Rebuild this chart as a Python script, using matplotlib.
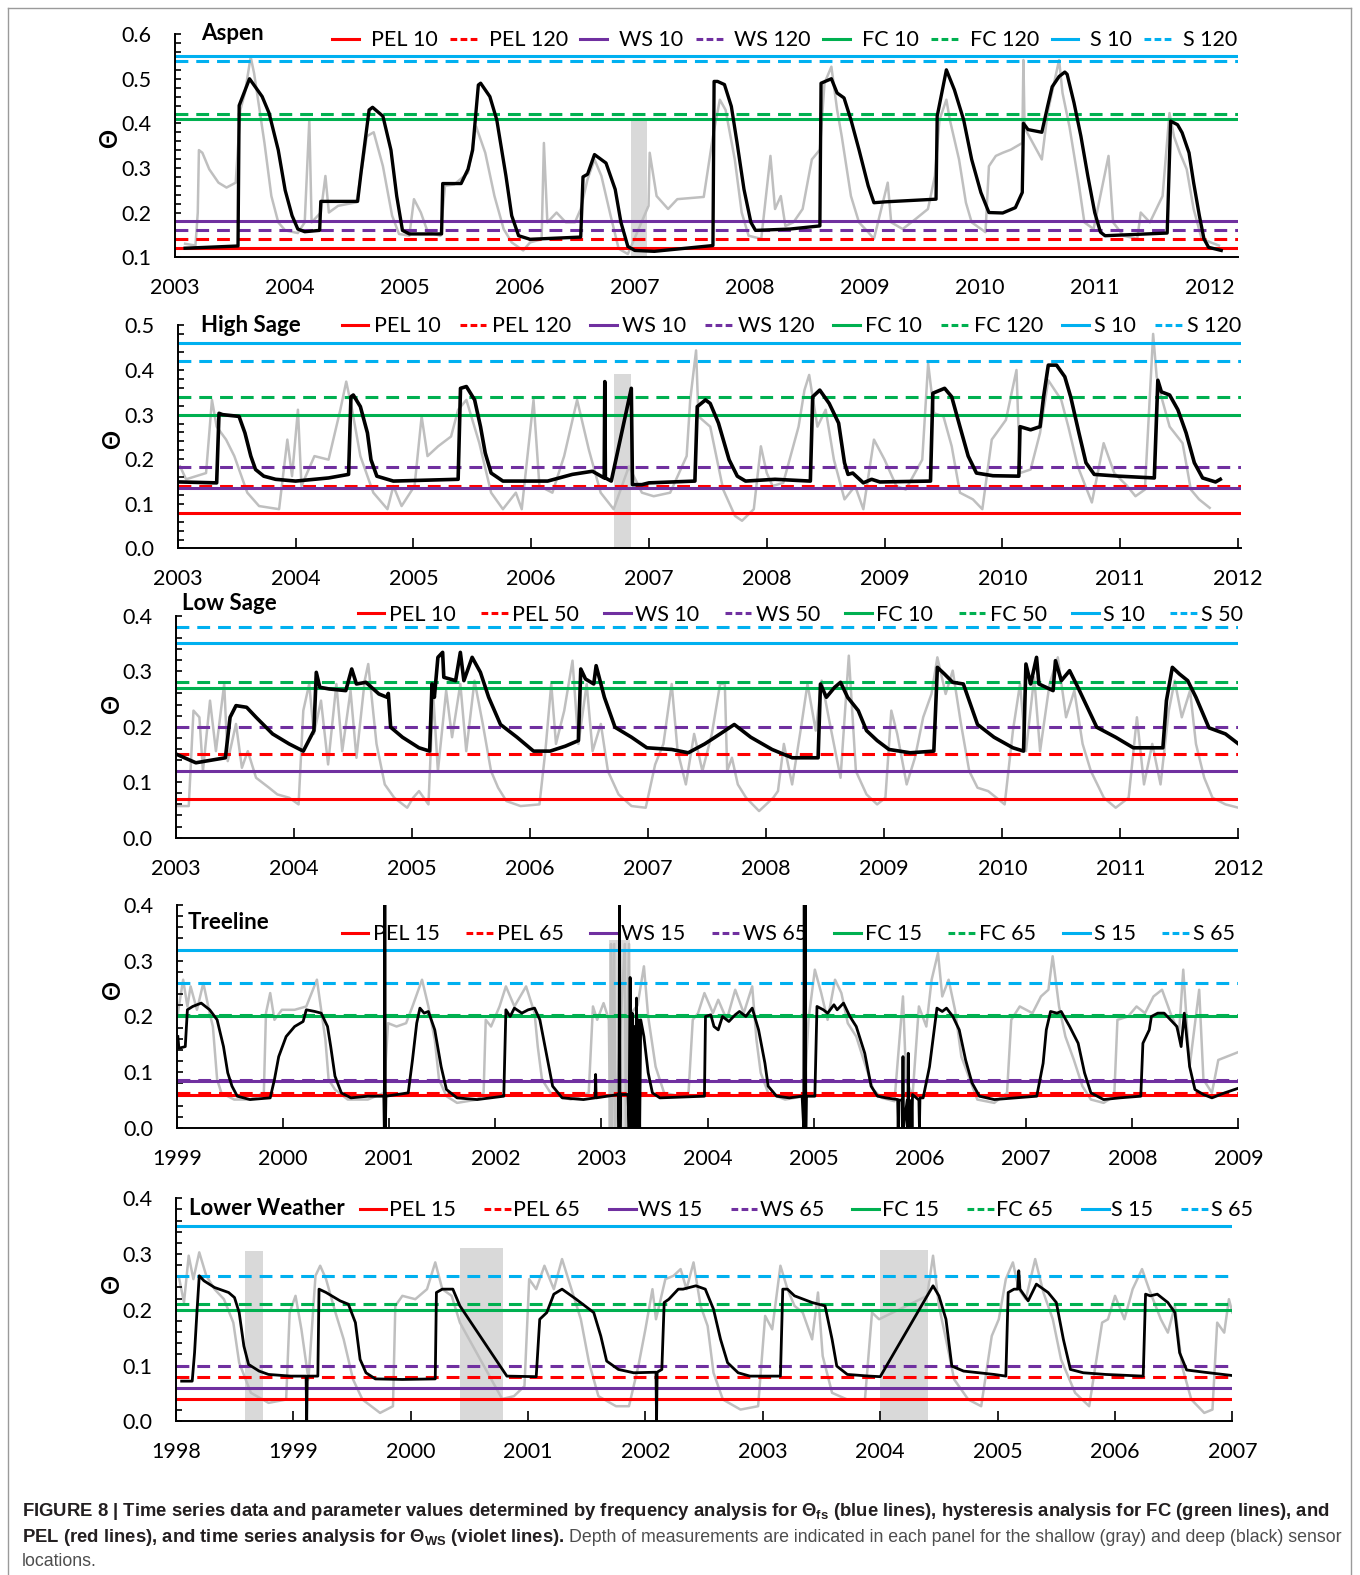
import matplotlib
matplotlib.use("Agg")
import matplotlib.pyplot as plt
from matplotlib.lines import Line2D
import numpy as np

# ---- data (decimal year, volumetric water content) ----
ref_colors = ["#FF0000", "#7030A0", "#00B050", "#00B0F0"]   # PEL, WS, FC, S

# Aspen (10 / 120 cm)
aspen_labels = ["PEL 10", "PEL 120", "WS 10", "WS 120", "FC 10", "FC 120", "S 10", "S 120"]
aspen_levels = [0.12, 0.14, 0.18, 0.16, 0.41, 0.42, 0.55, 0.54]
aspen_gaps = [(2006.97, 2007.11, 0.41)]
aspen_deep = [
    (2003.09, 0.12), (2003.55, 0.125), (2003.56, 0.44), (2003.65, 0.50), (2003.76, 0.46),
    (2003.82, 0.423), (2003.90, 0.34), (2003.96, 0.25), (2004.02, 0.193), (2004.07, 0.163),
    (2004.13, 0.157), (2004.26, 0.16), (2004.27, 0.225), (2004.59, 0.225), (2004.62, 0.29),
    (2004.69, 0.43), (2004.72, 0.436), (2004.81, 0.416), (2004.88, 0.34), (2004.93, 0.237),
    (2004.98, 0.16), (2005.04, 0.152), (2005.32, 0.152), (2005.33, 0.265), (2005.49, 0.265),
    (2005.55, 0.297), (2005.59, 0.34), (2005.64, 0.486), (2005.66, 0.49), (2005.74, 0.46),
    (2005.80, 0.408), (2005.88, 0.282), (2005.93, 0.193), (2005.99, 0.148), (2006.09, 0.14),
    (2006.53, 0.145), (2006.55, 0.28), (2006.59, 0.286), (2006.65, 0.33), (2006.75, 0.311),
    (2006.83, 0.252), (2006.88, 0.178), (2006.94, 0.124), (2007.0, 0.115), (2007.17, 0.113),
    (2007.68, 0.126), (2007.69, 0.494), (2007.72, 0.494), (2007.78, 0.487), (2007.84, 0.438),
    (2007.89, 0.356), (2007.95, 0.252), (2008.01, 0.178), (2008.05, 0.16), (2008.35, 0.163),
    (2008.61, 0.17), (2008.62, 0.49), (2008.71, 0.50), (2008.76, 0.468), (2008.82, 0.457),
    (2008.88, 0.408), (2008.95, 0.341), (2009.03, 0.26), (2009.08, 0.222), (2009.18, 0.224),
    (2009.62, 0.23), (2009.63, 0.416), (2009.71, 0.52), (2009.78, 0.475), (2009.86, 0.408),
    (2009.93, 0.319), (2010.01, 0.245), (2010.08, 0.20), (2010.20, 0.199), (2010.31, 0.211),
    (2010.37, 0.245), (2010.38, 0.40), (2010.42, 0.386), (2010.54, 0.38), (2010.59, 0.438),
    (2010.63, 0.482), (2010.69, 0.505), (2010.74, 0.515), (2010.76, 0.51), (2010.82, 0.446),
    (2010.88, 0.371), (2010.94, 0.282), (2011.0, 0.20), (2011.05, 0.156), (2011.09, 0.148),
    (2011.63, 0.154), (2011.66, 0.405), (2011.72, 0.397), (2011.76, 0.379), (2011.82, 0.334),
    (2011.86, 0.267), (2011.91, 0.193), (2011.95, 0.141), (2011.99, 0.122), (2012.10, 0.115)]
aspen_shallow = [
    (2003.09, 0.13), (2003.18, 0.126), (2003.20, 0.20), (2003.21, 0.34), (2003.24, 0.334),
    (2003.30, 0.297), (2003.38, 0.267), (2003.45, 0.256), (2003.53, 0.267), (2003.57, 0.43),
    (2003.61, 0.468), (2003.66, 0.549), (2003.69, 0.512), (2003.72, 0.46), (2003.78, 0.356),
    (2003.84, 0.237), (2003.90, 0.178), (2003.96, 0.16), (2004.07, 0.154), (2004.13, 0.178),
    (2004.17, 0.408), (2004.19, 0.178), (2004.27, 0.20), (2004.31, 0.282), (2004.34, 0.20),
    (2004.42, 0.215), (2004.58, 0.223), (2004.64, 0.319), (2004.67, 0.371), (2004.73, 0.38),
    (2004.81, 0.304), (2004.89, 0.193), (2004.95, 0.152), (2005.04, 0.148), (2005.08, 0.23),
    (2005.14, 0.20), (2005.20, 0.156), (2005.31, 0.148), (2005.35, 0.26), (2005.43, 0.263),
    (2005.55, 0.289), (2005.62, 0.393), (2005.70, 0.334), (2005.78, 0.237), (2005.86, 0.163),
    (2005.93, 0.133), (2006.03, 0.115), (2006.09, 0.133), (2006.19, 0.14), (2006.21, 0.356),
    (2006.24, 0.178), (2006.32, 0.20), (2006.40, 0.178), (2006.48, 0.178), (2006.53, 0.208),
    (2006.59, 0.275), (2006.65, 0.319), (2006.71, 0.282), (2006.79, 0.193), (2006.86, 0.119),
    (2006.94, 0.107), (2007.12, 0.215), (2007.13, 0.334), (2007.19, 0.237), (2007.29, 0.208),
    (2007.37, 0.23), (2007.60, 0.235), (2007.68, 0.371), (2007.74, 0.453), (2007.79, 0.43),
    (2007.87, 0.319), (2007.93, 0.20), (2007.99, 0.148), (2008.10, 0.141), (2008.18, 0.327),
    (2008.22, 0.208), (2008.27, 0.237), (2008.31, 0.17), (2008.38, 0.178), (2008.46, 0.208),
    (2008.54, 0.319), (2008.61, 0.341), (2008.65, 0.49), (2008.71, 0.527), (2008.76, 0.43),
    (2008.80, 0.371), (2008.88, 0.237), (2008.95, 0.178), (2009.03, 0.156), (2009.08, 0.141),
    (2009.20, 0.267), (2009.23, 0.178), (2009.33, 0.163), (2009.44, 0.185), (2009.55, 0.208),
    (2009.61, 0.282), (2009.65, 0.408), (2009.71, 0.453), (2009.74, 0.408), (2009.82, 0.319),
    (2009.88, 0.222), (2009.93, 0.178), (2010.05, 0.156), (2010.08, 0.304), (2010.14, 0.327),
    (2010.20, 0.334), (2010.27, 0.341), (2010.37, 0.356), (2010.38, 0.542), (2010.39, 0.39),
    (2010.54, 0.319), (2010.59, 0.423), (2010.69, 0.542), (2010.72, 0.468), (2010.78, 0.393),
    (2010.86, 0.267), (2010.91, 0.178), (2010.99, 0.163), (2011.12, 0.327), (2011.16, 0.178),
    (2011.25, 0.148), (2011.37, 0.141), (2011.40, 0.20), (2011.48, 0.178), (2011.59, 0.237),
    (2011.65, 0.423), (2011.69, 0.37), (2011.74, 0.334), (2011.80, 0.297), (2011.86, 0.208),
    (2011.93, 0.141), (2012.08, 0.126)]

# High Sage (10 / 120 cm)
hsage_labels = ["PEL 10", "PEL 120", "WS 10", "WS 120", "FC 10", "FC 120", "S 10", "S 120"]
hsage_levels = [0.08, 0.14, 0.135, 0.183, 0.30, 0.34, 0.46, 0.42]
hsage_gaps = [(2006.70, 2006.85, 0.39)]
hsage_deep = [
    (2003.02, 0.149), (2003.33, 0.147), (2003.35, 0.303), (2003.38, 0.30), (2003.52, 0.296),
    (2003.57, 0.259), (2003.62, 0.207), (2003.66, 0.177), (2003.73, 0.162), (2003.83, 0.155),
    (2004.0, 0.151), (2004.28, 0.158), (2004.45, 0.166), (2004.47, 0.34), (2004.49, 0.344),
    (2004.55, 0.318), (2004.61, 0.259), (2004.64, 0.199), (2004.69, 0.162), (2004.83, 0.151),
    (2005.38, 0.155), (2005.40, 0.359), (2005.45, 0.363), (2005.52, 0.333), (2005.57, 0.273),
    (2005.61, 0.214), (2005.66, 0.169), (2005.76, 0.151), (2006.14, 0.151), (2006.35, 0.166),
    (2006.52, 0.173), (2006.62, 0.158), (2006.625, 0.374), (2006.63, 0.158), (2006.68, 0.151),
    (2006.85, 0.359), (2006.86, 0.143), (2006.94, 0.143), (2007.0, 0.147), (2007.39, 0.151),
    (2007.41, 0.318), (2007.48, 0.333), (2007.52, 0.325), (2007.59, 0.281), (2007.68, 0.199),
    (2007.75, 0.162), (2007.82, 0.151), (2008.07, 0.155), (2008.37, 0.151), (2008.39, 0.34),
    (2008.45, 0.355), (2008.53, 0.325), (2008.61, 0.281), (2008.66, 0.192), (2008.69, 0.166),
    (2008.73, 0.169), (2008.82, 0.147), (2008.89, 0.155), (2008.96, 0.149), (2009.39, 0.151),
    (2009.41, 0.348), (2009.51, 0.359), (2009.57, 0.34), (2009.64, 0.273), (2009.71, 0.207),
    (2009.78, 0.169), (2009.92, 0.163), (2010.14, 0.162), (2010.15, 0.273), (2010.24, 0.266),
    (2010.32, 0.273), (2010.35, 0.34), (2010.39, 0.411), (2010.46, 0.411), (2010.53, 0.385),
    (2010.58, 0.34), (2010.65, 0.259), (2010.71, 0.192), (2010.78, 0.166), (2010.99, 0.162),
    (2011.29, 0.158), (2011.32, 0.377), (2011.35, 0.351), (2011.42, 0.344), (2011.49, 0.311),
    (2011.56, 0.259), (2011.63, 0.192), (2011.70, 0.158), (2011.81, 0.149), (2011.85, 0.155)]
hsage_shallow = [
    (2003.02, 0.184), (2003.07, 0.155), (2003.24, 0.169), (2003.29, 0.333), (2003.33, 0.273),
    (2003.41, 0.244), (2003.48, 0.207), (2003.59, 0.125), (2003.69, 0.095), (2003.86, 0.088),
    (2003.93, 0.244), (2003.97, 0.162), (2004.02, 0.311), (2004.05, 0.140), (2004.16, 0.207),
    (2004.28, 0.199), (2004.38, 0.311), (2004.43, 0.374), (2004.48, 0.311), (2004.55, 0.207),
    (2004.66, 0.125), (2004.78, 0.088), (2004.83, 0.140), (2004.90, 0.095), (2005.01, 0.140),
    (2005.07, 0.296), (2005.12, 0.207), (2005.21, 0.229), (2005.32, 0.251), (2005.38, 0.311),
    (2005.45, 0.333), (2005.56, 0.236), (2005.66, 0.125), (2005.76, 0.088), (2005.87, 0.125),
    (2005.92, 0.088), (2006.02, 0.333), (2006.07, 0.140), (2006.18, 0.125), (2006.28, 0.207),
    (2006.39, 0.333), (2006.49, 0.221), (2006.59, 0.125), (2006.70, 0.088), (2006.83, 0.184),
    (2006.94, 0.125), (2007.04, 0.117), (2007.18, 0.125), (2007.32, 0.207), (2007.35, 0.333),
    (2007.40, 0.444), (2007.42, 0.296), (2007.52, 0.273), (2007.63, 0.132), (2007.73, 0.073),
    (2007.79, 0.062), (2007.89, 0.088), (2007.95, 0.229), (2008.0, 0.169), (2008.05, 0.14),
    (2008.14, 0.147), (2008.27, 0.273), (2008.32, 0.355), (2008.36, 0.389), (2008.43, 0.273),
    (2008.50, 0.311), (2008.57, 0.199), (2008.66, 0.11), (2008.75, 0.14), (2008.82, 0.088),
    (2008.91, 0.244), (2009.0, 0.199), (2009.10, 0.14), (2009.18, 0.132), (2009.32, 0.199),
    (2009.37, 0.415), (2009.42, 0.303), (2009.50, 0.296), (2009.57, 0.229), (2009.64, 0.125),
    (2009.75, 0.11), (2009.83, 0.088), (2009.91, 0.244), (2010.03, 0.288), (2010.12, 0.40),
    (2010.15, 0.169), (2010.24, 0.177), (2010.32, 0.259), (2010.39, 0.377), (2010.50, 0.333),
    (2010.56, 0.273), (2010.64, 0.184), (2010.76, 0.103), (2010.86, 0.236), (2010.95, 0.169),
    (2011.06, 0.14), (2011.13, 0.117), (2011.21, 0.132), (2011.28, 0.481), (2011.31, 0.385),
    (2011.35, 0.34), (2011.42, 0.273), (2011.53, 0.236), (2011.60, 0.132), (2011.67, 0.11),
    (2011.76, 0.091)]

# Low Sage (10 / 50 cm)
lsage_labels = ["PEL 10", "PEL 50", "WS 10", "WS 50", "FC 10", "FC 50", "S 10", "S 50"]
lsage_levels = [0.07, 0.15, 0.12, 0.20, 0.27, 0.28, 0.35, 0.38]
lsage_gaps = []
lsage_deep = [
    (2003.01, 0.150), (2003.17, 0.135), (2003.42, 0.144), (2003.46, 0.217), (2003.51, 0.238),
    (2003.60, 0.235), (2003.68, 0.217), (2003.82, 0.187), (2003.96, 0.169), (2004.08, 0.156),
    (2004.17, 0.193), (2004.19, 0.298), (2004.22, 0.271), (2004.30, 0.268), (2004.44, 0.265),
    (2004.49, 0.304), (2004.53, 0.277), (2004.61, 0.28), (2004.72, 0.259), (2004.79, 0.253),
    (2004.80, 0.26), (2004.82, 0.199), (2004.92, 0.181), (2005.06, 0.162), (2005.15, 0.156),
    (2005.17, 0.277), (2005.19, 0.253), (2005.22, 0.325), (2005.26, 0.334), (2005.27, 0.289),
    (2005.37, 0.283), (2005.41, 0.334), (2005.44, 0.283), (2005.51, 0.325), (2005.58, 0.298),
    (2005.65, 0.253), (2005.75, 0.204), (2005.89, 0.181), (2006.03, 0.156), (2006.17, 0.156),
    (2006.30, 0.165), (2006.41, 0.175), (2006.43, 0.304), (2006.47, 0.286), (2006.54, 0.277),
    (2006.56, 0.31), (2006.63, 0.253), (2006.72, 0.199), (2006.86, 0.181), (2006.99, 0.162),
    (2007.20, 0.159), (2007.34, 0.153), (2007.48, 0.169), (2007.61, 0.187), (2007.73, 0.204),
    (2007.87, 0.181), (2008.05, 0.159), (2008.22, 0.144), (2008.44, 0.144), (2008.46, 0.277),
    (2008.51, 0.253), (2008.58, 0.271), (2008.63, 0.28), (2008.69, 0.253), (2008.78, 0.229),
    (2008.85, 0.193), (2008.94, 0.175), (2009.04, 0.159), (2009.22, 0.153), (2009.42, 0.156),
    (2009.45, 0.307), (2009.51, 0.295), (2009.58, 0.28), (2009.67, 0.277), (2009.79, 0.204),
    (2009.93, 0.181), (2010.09, 0.162), (2010.18, 0.156), (2010.20, 0.313), (2010.24, 0.277),
    (2010.29, 0.325), (2010.31, 0.277), (2010.43, 0.265), (2010.45, 0.319), (2010.50, 0.283),
    (2010.57, 0.301), (2010.64, 0.271), (2010.80, 0.199), (2010.96, 0.181), (2011.11, 0.162),
    (2011.36, 0.162), (2011.39, 0.247), (2011.44, 0.307), (2011.50, 0.295), (2011.57, 0.283),
    (2011.64, 0.253), (2011.75, 0.198), (2011.89, 0.187), (2012.0, 0.169)]
lsage_shallow = [
    (2003.01, 0.057), (2003.11, 0.057), (2003.15, 0.229), (2003.20, 0.217), (2003.23, 0.12),
    (2003.29, 0.247), (2003.34, 0.156), (2003.41, 0.277), (2003.44, 0.138), (2003.51, 0.205),
    (2003.56, 0.126), (2003.61, 0.156), (2003.68, 0.108), (2003.79, 0.09), (2003.86, 0.078),
    (2003.96, 0.072), (2004.04, 0.06), (2004.08, 0.229), (2004.13, 0.277), (2004.17, 0.187),
    (2004.23, 0.247), (2004.29, 0.132), (2004.36, 0.277), (2004.41, 0.156), (2004.48, 0.265),
    (2004.53, 0.144), (2004.60, 0.283), (2004.63, 0.313), (2004.70, 0.169), (2004.77, 0.096),
    (2004.85, 0.072), (2004.96, 0.054), (2005.01, 0.072), (2005.06, 0.084), (2005.14, 0.06),
    (2005.18, 0.259), (2005.22, 0.12), (2005.29, 0.265), (2005.34, 0.181), (2005.41, 0.277),
    (2005.46, 0.156), (2005.53, 0.283), (2005.60, 0.205), (2005.67, 0.12), (2005.73, 0.09),
    (2005.80, 0.066), (2005.92, 0.057), (2006.08, 0.06), (2006.13, 0.156), (2006.18, 0.277),
    (2006.22, 0.169), (2006.29, 0.229), (2006.36, 0.319), (2006.41, 0.169), (2006.48, 0.277),
    (2006.53, 0.156), (2006.60, 0.205), (2006.66, 0.12), (2006.75, 0.078), (2006.86, 0.057),
    (2006.98, 0.054), (2007.06, 0.132), (2007.13, 0.169), (2007.20, 0.277), (2007.25, 0.156),
    (2007.32, 0.096), (2007.39, 0.187), (2007.46, 0.12), (2007.54, 0.187), (2007.61, 0.277),
    (2007.65, 0.277), (2007.67, 0.12), (2007.71, 0.144), (2007.76, 0.096), (2007.83, 0.072),
    (2007.94, 0.048), (2008.06, 0.072), (2008.10, 0.084), (2008.15, 0.169), (2008.22, 0.096),
    (2008.30, 0.205), (2008.35, 0.277), (2008.42, 0.193), (2008.47, 0.283), (2008.54, 0.205),
    (2008.63, 0.108), (2008.70, 0.328), (2008.76, 0.12), (2008.85, 0.078), (2008.94, 0.06),
    (2009.01, 0.072), (2009.06, 0.229), (2009.11, 0.187), (2009.19, 0.096), (2009.26, 0.144),
    (2009.33, 0.217), (2009.40, 0.259), (2009.45, 0.325), (2009.52, 0.259), (2009.58, 0.301),
    (2009.65, 0.205), (2009.72, 0.12), (2009.79, 0.09), (2009.88, 0.084), (2009.95, 0.072),
    (2010.02, 0.06), (2010.09, 0.193), (2010.15, 0.277), (2010.20, 0.156), (2010.27, 0.289),
    (2010.32, 0.156), (2010.40, 0.277), (2010.47, 0.325), (2010.54, 0.217), (2010.61, 0.265),
    (2010.68, 0.169), (2010.75, 0.12), (2010.86, 0.072), (2010.96, 0.054), (2011.07, 0.072),
    (2011.14, 0.217), (2011.20, 0.096), (2011.27, 0.169), (2011.34, 0.096), (2011.41, 0.229),
    (2011.46, 0.283), (2011.52, 0.217), (2011.59, 0.265), (2011.64, 0.169), (2011.71, 0.108),
    (2011.78, 0.072), (2011.89, 0.06), (2012.0, 0.054)]

# Treeline (15 / 65 cm)
tree_labels = ["PEL 15", "PEL 65", "WS 15", "WS 65", "FC 15", "FC 65", "S 15", "S 65"]
tree_levels = [0.060, 0.062, 0.084, 0.086, 0.200, 0.202, 0.32, 0.26]
tree_gaps = [(2003.07, 2003.27, 0.337)]
tree_deep = [
    (1999.01, 0.164), (1999.02, 0.143), (1999.08, 0.146), (1999.10, 0.212), (1999.15, 0.218),
    (1999.23, 0.224), (1999.31, 0.212), (1999.38, 0.194), (1999.44, 0.146), (1999.48, 0.099),
    (1999.52, 0.075), (1999.57, 0.057), (1999.69, 0.051), (1999.88, 0.054), (1999.92, 0.087),
    (1999.96, 0.128), (2000.03, 0.164), (2000.11, 0.182), (2000.19, 0.191), (2000.22, 0.212),
    (2000.30, 0.209), (2000.36, 0.206), (2000.42, 0.182), (2000.45, 0.146), (2000.49, 0.093),
    (2000.55, 0.063), (2000.64, 0.054), (2000.80, 0.057), (2000.95, 0.057), (2000.955, 0.0),
    (2000.96, 0.40), (2000.965, 0.0), (2000.97, 0.057), (2001.18, 0.063), (2001.22, 0.122),
    (2001.26, 0.188), (2001.29, 0.215), (2001.33, 0.206), (2001.37, 0.209), (2001.43, 0.176),
    (2001.49, 0.11), (2001.54, 0.069), (2001.64, 0.054), (2001.83, 0.051), (2002.08, 0.057),
    (2002.10, 0.212), (2002.14, 0.20), (2002.18, 0.215), (2002.25, 0.206), (2002.31, 0.212),
    (2002.37, 0.215), (2002.42, 0.194), (2002.48, 0.134), (2002.54, 0.075), (2002.63, 0.054),
    (2002.83, 0.051), (2002.94, 0.054), (2002.945, 0.096), (2002.95, 0.054), (2003.16, 0.06),
    (2003.165, 0.0), (2003.17, 0.40), (2003.175, 0.0), (2003.18, 0.06), (2003.25, 0.06),
    (2003.26, 0.0), (2003.27, 0.27), (2003.28, 0.0), (2003.29, 0.206), (2003.30, 0.0),
    (2003.31, 0.182), (2003.32, 0.0), (2003.33, 0.233), (2003.34, 0.0), (2003.35, 0.194),
    (2003.36, 0.0), (2003.37, 0.194), (2003.40, 0.164), (2003.44, 0.099), (2003.48, 0.063),
    (2003.55, 0.054), (2003.97, 0.057), (2003.98, 0.20), (2004.03, 0.203), (2004.06, 0.182),
    (2004.10, 0.176), (2004.14, 0.20), (2004.20, 0.191), (2004.26, 0.203), (2004.30, 0.209),
    (2004.36, 0.20), (2004.42, 0.215), (2004.48, 0.176), (2004.54, 0.116), (2004.57, 0.075),
    (2004.65, 0.057), (2004.77, 0.054), (2004.89, 0.057), (2004.905, 0.0), (2004.91, 0.40),
    (2004.915, 0.0), (2004.92, 0.40), (2004.925, 0.0), (2004.93, 0.057), (2005.01, 0.057),
    (2005.03, 0.218), (2005.09, 0.212), (2005.13, 0.206), (2005.19, 0.221), (2005.22, 0.212),
    (2005.28, 0.224), (2005.34, 0.20), (2005.40, 0.182), (2005.48, 0.134), (2005.54, 0.075),
    (2005.60, 0.057), (2005.68, 0.054), (2005.79, 0.051), (2005.795, 0.0), (2005.80, 0.05),
    (2005.83, 0.05), (2005.835, 0.0), (2005.84, 0.128), (2005.845, 0.0), (2005.88, 0.05),
    (2005.885, 0.0), (2005.89, 0.134), (2005.895, 0.0), (2005.92, 0.05), (2005.925, 0.0),
    (2005.93, 0.06), (2005.99, 0.05), (2005.995, 0.0), (2006.0, 0.054), (2006.03, 0.054),
    (2006.09, 0.11), (2006.13, 0.17), (2006.16, 0.215), (2006.21, 0.209), (2006.25, 0.215),
    (2006.31, 0.20), (2006.37, 0.176), (2006.43, 0.122), (2006.49, 0.081), (2006.56, 0.057),
    (2006.70, 0.051), (2006.90, 0.054), (2007.10, 0.057), (2007.16, 0.116), (2007.19, 0.176),
    (2007.23, 0.209), (2007.29, 0.206), (2007.33, 0.209), (2007.41, 0.182), (2007.49, 0.152),
    (2007.55, 0.099), (2007.61, 0.063), (2007.73, 0.051), (2007.88, 0.054), (2008.08, 0.057),
    (2008.10, 0.152), (2008.16, 0.176), (2008.18, 0.20), (2008.24, 0.206), (2008.30, 0.206),
    (2008.36, 0.194), (2008.42, 0.182), (2008.46, 0.146), (2008.49, 0.206), (2008.54, 0.11),
    (2008.59, 0.069), (2008.67, 0.060), (2008.75, 0.054), (2008.87, 0.063), (2009.01, 0.072)]
tree_shallow = [
    (1999.01, 0.206), (1999.06, 0.266), (1999.10, 0.218), (1999.13, 0.254), (1999.19, 0.212),
    (1999.25, 0.26), (1999.31, 0.206), (1999.34, 0.182), (1999.38, 0.087), (1999.42, 0.063),
    (1999.54, 0.051), (1999.69, 0.051), (1999.82, 0.063), (1999.84, 0.206), (1999.88, 0.242),
    (1999.92, 0.194), (1999.99, 0.212), (2000.11, 0.212), (2000.22, 0.218), (2000.32, 0.266),
    (2000.36, 0.212), (2000.40, 0.158), (2000.43, 0.087), (2000.49, 0.069), (2000.61, 0.051),
    (2000.80, 0.051), (2000.95, 0.063), (2000.99, 0.188), (2001.07, 0.182), (2001.16, 0.188),
    (2001.22, 0.218), (2001.31, 0.266), (2001.37, 0.218), (2001.43, 0.158), (2001.47, 0.087),
    (2001.54, 0.057), (2001.64, 0.045), (2001.83, 0.051), (2001.89, 0.063), (2001.91, 0.194),
    (2001.96, 0.182), (2002.04, 0.218), (2002.10, 0.254), (2002.18, 0.218), (2002.29, 0.254),
    (2002.37, 0.206), (2002.40, 0.146), (2002.44, 0.087), (2002.52, 0.063), (2002.71, 0.051),
    (2002.88, 0.063), (2002.92, 0.218), (2002.96, 0.194), (2003.02, 0.224), (2003.07, 0.194),
    (2003.08, 0.0), (2003.09, 0.33), (2003.10, 0.0), (2003.12, 0.33), (2003.13, 0.0),
    (2003.22, 0.33), (2003.23, 0.0), (2003.26, 0.33), (2003.27, 0.0), (2003.28, 0.206),
    (2003.34, 0.22), (2003.40, 0.29), (2003.44, 0.20), (2003.51, 0.11), (2003.59, 0.063),
    (2003.74, 0.057), (2003.82, 0.063), (2003.86, 0.194), (2003.91, 0.206), (2003.97, 0.242),
    (2004.05, 0.206), (2004.10, 0.23), (2004.18, 0.194), (2004.26, 0.248), (2004.34, 0.206),
    (2004.42, 0.254), (2004.46, 0.158), (2004.50, 0.099), (2004.57, 0.063), (2004.73, 0.051),
    (2004.91, 0.057), (2004.95, 0.194), (2005.01, 0.284), (2005.07, 0.242), (2005.13, 0.194),
    (2005.20, 0.266), (2005.26, 0.242), (2005.32, 0.188), (2005.40, 0.164), (2005.48, 0.116),
    (2005.56, 0.069), (2005.64, 0.054), (2005.76, 0.048), (2005.84, 0.236), (2005.87, 0.087),
    (2005.93, 0.057), (2005.99, 0.218), (2006.06, 0.182), (2006.11, 0.266), (2006.17, 0.314),
    (2006.21, 0.236), (2006.27, 0.266), (2006.33, 0.212), (2006.39, 0.128), (2006.47, 0.087),
    (2006.54, 0.051), (2006.70, 0.045), (2006.82, 0.063), (2006.86, 0.194), (2006.94, 0.218),
    (2007.06, 0.206), (2007.14, 0.236), (2007.21, 0.248), (2007.25, 0.308), (2007.31, 0.218),
    (2007.37, 0.164), (2007.45, 0.122), (2007.53, 0.075), (2007.61, 0.051), (2007.73, 0.045),
    (2007.83, 0.057), (2007.86, 0.194), (2007.96, 0.20), (2008.04, 0.218), (2008.12, 0.206),
    (2008.20, 0.236), (2008.28, 0.248), (2008.36, 0.206), (2008.44, 0.17), (2008.48, 0.284),
    (2008.54, 0.11), (2008.63, 0.248), (2008.67, 0.087), (2008.75, 0.063), (2008.81, 0.122),
    (2009.01, 0.137)]

# Lower Weather (15 / 65 cm)
lweather_labels = ["PEL 15", "PEL 65", "WS 15", "WS 65", "FC 15", "FC 65", "S 15", "S 65"]
lweather_levels = [0.04, 0.08, 0.06, 0.10, 0.20, 0.21, 0.35, 0.26]
lweather_gaps = [(1998.59, 1998.74, 0.306), (2000.42, 2000.79, 0.31), (2004.0, 2004.41, 0.308)]
lweather_deep = [
    (1998.05, 0.072), (1998.14, 0.072), (1998.16, 0.123), (1998.18, 0.195), (1998.20, 0.261),
    (1998.24, 0.252), (1998.33, 0.24), (1998.45, 0.231), (1998.50, 0.222), (1998.54, 0.195),
    (1998.58, 0.135), (1998.62, 0.102), (1998.71, 0.09), (1998.79, 0.084), (1998.98, 0.081),
    (1999.11, 0.081), (1999.115, 0.0), (1999.12, 0.081), (1999.21, 0.081), (1999.22, 0.237),
    (1999.28, 0.231), (1999.40, 0.216), (1999.47, 0.21), (1999.53, 0.177), (1999.57, 0.111),
    (1999.62, 0.087), (1999.70, 0.076), (1999.93, 0.075), (2000.21, 0.076), (2000.22, 0.231),
    (2000.27, 0.237), (2000.36, 0.237), (2000.42, 0.207), (2000.82, 0.081), (2001.07, 0.08),
    (2001.10, 0.183), (2001.16, 0.195), (2001.22, 0.228), (2001.29, 0.237), (2001.41, 0.219),
    (2001.56, 0.195), (2001.62, 0.153), (2001.67, 0.108), (2001.77, 0.093), (2001.90, 0.087),
    (2002.09, 0.088), (2002.095, 0.0), (2002.10, 0.088), (2002.14, 0.093), (2002.16, 0.213),
    (2002.20, 0.219), (2002.28, 0.237), (2002.32, 0.237), (2002.43, 0.243), (2002.51, 0.237),
    (2002.58, 0.201), (2002.64, 0.147), (2002.70, 0.105), (2002.79, 0.087), (2002.89, 0.081),
    (2003.15, 0.081), (2003.17, 0.237), (2003.21, 0.237), (2003.27, 0.225), (2003.42, 0.213),
    (2003.53, 0.207), (2003.59, 0.147), (2003.63, 0.099), (2003.72, 0.084), (2003.91, 0.081),
    (2004.0, 0.08), (2004.45, 0.243), (2004.50, 0.225), (2004.56, 0.183), (2004.61, 0.099),
    (2004.71, 0.09), (2004.97, 0.084), (2005.07, 0.081), (2005.09, 0.231), (2005.14, 0.237),
    (2005.17, 0.237), (2005.18, 0.27), (2005.19, 0.237), (2005.26, 0.216), (2005.33, 0.246),
    (2005.43, 0.231), (2005.50, 0.213), (2005.56, 0.147), (2005.62, 0.093), (2005.73, 0.087),
    (2005.92, 0.084), (2006.24, 0.081), (2006.26, 0.228), (2006.30, 0.225), (2006.36, 0.228),
    (2006.45, 0.213), (2006.51, 0.195), (2006.55, 0.123), (2006.61, 0.092), (2006.76, 0.088),
    (2007.0, 0.082)]
lweather_shallow = [
    (1998.03, 0.255), (1998.07, 0.213), (1998.11, 0.297), (1998.15, 0.255), (1998.20, 0.303),
    (1998.26, 0.261), (1998.33, 0.237), (1998.41, 0.219), (1998.49, 0.177), (1998.54, 0.105),
    (1998.64, 0.051), (1998.79, 0.033), (1998.94, 0.039), (1998.97, 0.195), (1999.02, 0.225),
    (1999.07, 0.165), (1999.13, 0.075), (1999.19, 0.261), (1999.23, 0.279), (1999.28, 0.255),
    (1999.36, 0.195), (1999.43, 0.147), (1999.51, 0.075), (1999.59, 0.039), (1999.74, 0.015),
    (1999.85, 0.027), (1999.87, 0.207), (1999.93, 0.225), (2000.04, 0.219), (2000.14, 0.237),
    (2000.21, 0.285), (2000.27, 0.237), (2000.35, 0.225), (2000.42, 0.177), (2000.78, 0.04),
    (2000.88, 0.045), (2000.97, 0.063), (2001.01, 0.255), (2001.07, 0.237), (2001.14, 0.279),
    (2001.22, 0.237), (2001.29, 0.291), (2001.37, 0.237), (2001.45, 0.183), (2001.52, 0.105),
    (2001.60, 0.045), (2001.75, 0.027), (2001.86, 0.027), (2001.94, 0.099), (2002.0, 0.165),
    (2002.06, 0.237), (2002.09, 0.183), (2002.17, 0.255), (2002.24, 0.261), (2002.30, 0.273),
    (2002.35, 0.237), (2002.41, 0.285), (2002.47, 0.207), (2002.53, 0.171), (2002.58, 0.087),
    (2002.66, 0.039), (2002.81, 0.021), (2002.96, 0.027), (2003.02, 0.189), (2003.08, 0.165),
    (2003.15, 0.279), (2003.21, 0.237), (2003.27, 0.207), (2003.34, 0.195), (2003.42, 0.147),
    (2003.47, 0.231), (2003.51, 0.117), (2003.59, 0.051), (2003.72, 0.039), (2003.87, 0.039),
    (2003.93, 0.195), (2003.99, 0.183), (2004.40, 0.225), (2004.45, 0.297), (2004.50, 0.207),
    (2004.56, 0.147), (2004.63, 0.075), (2004.75, 0.039), (2004.86, 0.027), (2004.95, 0.153),
    (2005.01, 0.183), (2005.07, 0.255), (2005.13, 0.285), (2005.18, 0.237), (2005.24, 0.219),
    (2005.32, 0.291), (2005.39, 0.231), (2005.47, 0.183), (2005.54, 0.111), (2005.66, 0.051),
    (2005.78, 0.027), (2005.89, 0.177), (2005.94, 0.183), (2006.0, 0.225), (2006.08, 0.183),
    (2006.15, 0.237), (2006.23, 0.273), (2006.29, 0.237), (2006.39, 0.183), (2006.45, 0.159),
    (2006.51, 0.207), (2006.57, 0.099), (2006.65, 0.039), (2006.76, 0.015), (2006.83, 0.021),
    (2006.87, 0.177), (2006.93, 0.159), (2006.97, 0.219), (2007.0, 0.195)]

# ---- layout (pixel boxes measured on the reference) ----
W, H = 1360, 1575
S = 1360 / 1354.0


def fx(x):
    return x * S / W


def fy(y):
    return 1 - y * S / H


plt.rcParams['font.family'] = ['Lato', 'DejaVu Sans']
fig = plt.figure(figsize=(13.6, 15.75), dpi=100)


def panel(box, xlim, ylim, deep, shallow, labels, levels, gaps, title, title_xy,
          leg_x, leg_y, htpad, label_y, xticks_in=True, deep_lw=2.0):
    left, right, top, bottom = box
    ax = fig.add_axes([fx(left), fy(bottom), fx(right) - fx(left), fy(top) - fy(bottom)])
    for x0, x1, ytop in gaps:
        ax.fill_between([x0, x1], ylim[0], ytop, color="#D9D9D9", lw=0, zorder=0.5)
    t, v = np.array(shallow).T
    ax.plot(t, v, color="#BFBFBF", lw=1.8, zorder=1)
    handles = []
    for i, (lab, lev) in enumerate(zip(labels, levels)):
        c = ref_colors[i // 2]
        ls = "-" if i % 2 == 0 else (0, (4.2, 2.6))
        ax.axhline(lev, color=c, lw=2.2, ls=ls, zorder=2)
        handles.append(Line2D([], [], color=c, lw=2.2,
                              ls="-" if i % 2 == 0 else (0, (2.2, 1.1))))
    t, v = np.array(deep).T
    ax.plot(t, v, color="black", lw=deep_lw, zorder=4)

    ax.set_xlim(*xlim)
    ax.set_ylim(*ylim)
    years = np.arange(int(np.ceil(xlim[0])), int(np.floor(xlim[1])) + 1)
    ax.set_xticks(years)
    ax.set_xticklabels([str(y) for y in years])
    ax.set_yticks(np.arange(ylim[0], ylim[1] + 1e-9, 0.1))
    ax.set_yticklabels(["%.1f" % y for y in np.arange(ylim[0], ylim[1] + 1e-9, 0.1)])
    ax.set_yticks(np.arange(ylim[0], ylim[1] + 1e-9, 0.02), minor=True)
    ax.tick_params(axis="y", which="both", direction="in", length=4, width=1.2,
                   labelsize=15.5, pad=17)
    ax.tick_params(axis="x", direction="in", length=7 if xticks_in else 0, width=1.2,
                   labelsize=15.5, pad=15)
    for sp in ["top", "right"]:
        ax.spines[sp].set_visible(False)
    for sp in ["left", "bottom"]:
        ax.spines[sp].set_linewidth(1.4)
    ax.patch.set_alpha(0)

    # y label sits between two tick labels, as in the original
    ax.set_ylabel("Θ", fontsize=17, fontweight="bold")
    ax.yaxis.set_label_coords(-0.05, (label_y - ylim[0]) / (ylim[1] - ylim[0]))

    fig.text(fx(title_xy[0]), fy(title_xy[1]), title, fontsize=16, fontweight="bold",
             ha="left", va="center")

    leg = ax.legend(handles, labels, ncol=8, mode="expand", loc="center left",
                    bbox_to_anchor=(fx(leg_x[0]), fy(leg_y), fx(leg_x[1]) - fx(leg_x[0]), 0),
                    bbox_transform=fig.transFigure, frameon=False, fontsize=15.5,
                    borderpad=0, borderaxespad=0, handlelength=1.25, handletextpad=htpad)
    leg.set_zorder(3)
    return ax


panel((174, 1233, 34, 256), (2003, 2012.25), (0.1, 0.6), aspen_deep, aspen_shallow,
      aspen_labels, aspen_levels, aspen_gaps, "Aspen", (200, 33), (331, 1232), 40, 0.55,
      0.365, xticks_in=False, deep_lw=2.4)
panel((177, 1236, 324, 546), (2003, 2012.03), (0.0, 0.5), hsage_deep, hsage_shallow,
      hsage_labels, hsage_levels, hsage_gaps, "High Sage", (200, 324), (340, 1236), 325, 0.25,
      0.245, deep_lw=2.6)
panel((175, 1233, 613, 834), (2003, 2012), (0.0, 0.4), lsage_deep, lsage_shallow,
      lsage_labels, lsage_levels, lsage_gaps, "Low Sage", (181, 601), (356, 1238), 612, 0.2,
      0.24, deep_lw=2.6)
panel((176, 1233, 901, 1123), (1999, 2009), (0.0, 0.4), tree_deep, tree_shallow,
      tree_labels, tree_levels, tree_gaps, "Treeline", (187, 918), (340, 1230), 930, 0.2,
      0.247)
panel((175, 1227, 1193, 1415), (1998, 2007), (0.0, 0.4), lweather_deep, lweather_shallow,
      lweather_labels, lweather_levels, lweather_gaps, "Lower Weather", (188, 1203),
      (358, 1247), 1205, 0.1, 0.245)

# frame around the figure panel
frame_kw = dict(color="#9A9A9A", lw=1.0, transform=fig.transFigure)
fig.add_artist(Line2D([fx(8), fx(8)], [fy(8), 0], **frame_kw))
fig.add_artist(Line2D([fx(8), fx(1345)], [fy(8), fy(8)], **frame_kw))
fig.add_artist(Line2D([fx(1345), fx(1345)], [fy(8), 0], **frame_kw))

# caption
cap_font = ['Liberation Sans Narrow', 'Liberation Sans', 'DejaVu Sans']
cap_kw = dict(fontsize=13.35, family=cap_font, ha="left", va="baseline")
fig.text(fx(22), fy(1509),
         "FIGURE 8 | Time series data and parameter values determined by frequency analysis "
         "for Θ$_{\\mathregular{fs}}$ (blue lines), hysteresis analysis for FC (green lines), and",
         fontweight="bold", color="#231F20", **cap_kw)
bold2 = fig.text(fx(22), fy(1535),
                 "PEL (red lines), and time series analysis for Θ$_{\\mathregular{WS}}$ (violet lines).",
                 fontweight="bold", color="#231F20", **cap_kw)
fig.canvas.draw()
bb = bold2.get_window_extent(renderer=fig.canvas.get_renderer())
fig.text(bb.x1 / W + 0.003, fy(1535),
         "Depth of measurements are indicated in each panel for the shallow (gray) and deep (black) sensor",
         color="#4D4D4D", fontsize=12.75, family=cap_font, ha="left", va="baseline")
fig.text(fx(22), fy(1559), "locations.", color="#4D4D4D", fontsize=12.75, family=cap_font,
         ha="left", va="baseline")

fig.savefig("out.png", dpi=100)
